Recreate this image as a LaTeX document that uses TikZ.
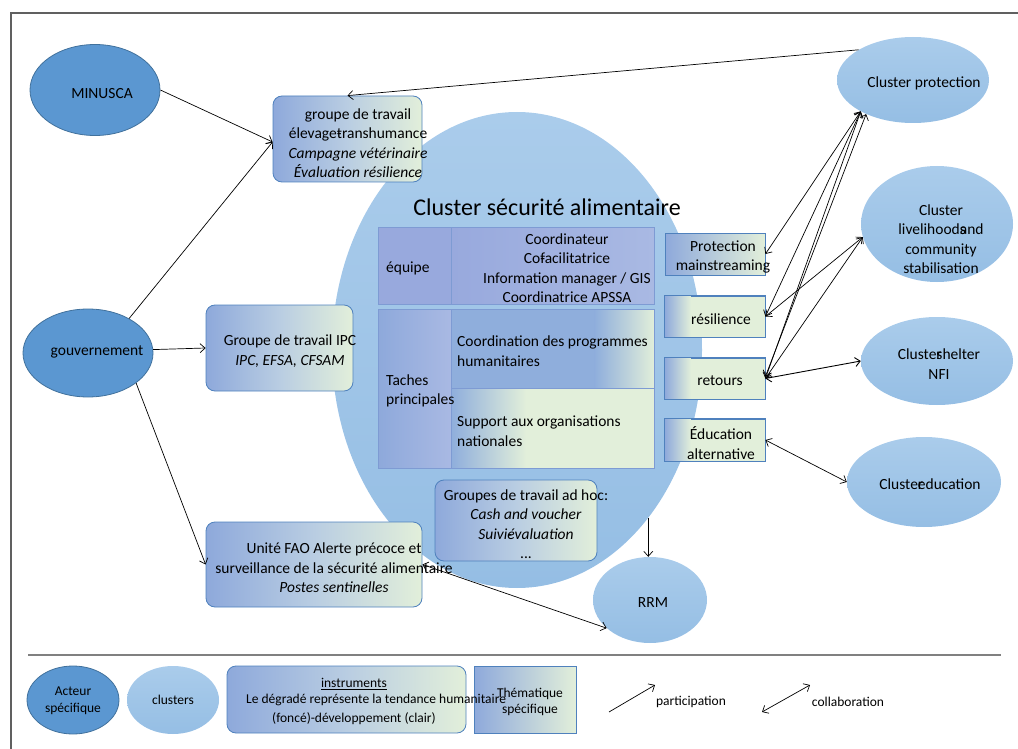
\documentclass[tikz,border=0pt]{standalone}
\usepackage{fontspec}
\setmainfont{Carlito}
\usetikzlibrary{arrows.meta,shapes.geometric,calc}
\definecolor{actor}{HTML}{5B97D1}
\definecolor{actorline}{HTML}{41719C}
\definecolor{clutop}{HTML}{AACCEB}
\definecolor{clubot}{HTML}{95BEE4}
\definecolor{blu}{HTML}{8EA9DB}
\definecolor{blu2}{HTML}{8FAEDC}
\definecolor{grn}{HTML}{E2EFDA}
\definecolor{midc}{HTML}{B9CDE2}
\definecolor{boxline}{HTML}{4F81BD}
\definecolor{cellline}{HTML}{7E9BD3}
\definecolor{eqa}{HTML}{98A9DD}
\definecolor{eqb}{HTML}{A9B9E3}
\definecolor{framec}{HTML}{606060}
\begin{document}
\begin{tikzpicture}[x=1pt,y=-1pt,font=\fontsize{15.5}{19.5}\selectfont,
  actorn/.style={ellipse,draw=actorline,line width=0.8pt,fill=actor,inner sep=0},
  clustern/.style={ellipse,top color=clutop,bottom color=clubot,draw=none,inner sep=0},
  instr/.style={rounded corners=9pt,draw=boxline,line width=0.8pt,left color=blu,right color=grn,middle color=midc,inner sep=0},
  thema/.style={draw=boxline,line width=0.8pt,fill=grn,inner sep=0,minimum width=100pt},
  strip/.style={draw=none,inner sep=0,left color=#1,right color=grn},
  cell/.style={draw=cellline,line width=0.8pt,inner sep=0,anchor=north west},
  txt/.style={inner sep=0,align=center},
  lfont/.style={font=\fontsize{13.5}{16.5}\selectfont},
  part/.style={-{Straight Barb[length=5pt,width=9pt]},line width=0.7pt},
  collab/.style={{Straight Barb[length=5pt,width=9pt]}-{Straight Barb[length=5pt,width=9pt]},line width=0.7pt}]
\useasboundingbox (0,0) rectangle (1018,749);
% frame
\draw[framec,line width=1.3pt] (11,749) -- (11,13) -- (1018,13);
\draw[gray,line width=1.2pt] (28,655) -- (1001,655);

% big cluster ellipse
\node[clustern,minimum width=370pt,minimum height=476pt] (big) at (517,350) {};
\node[txt,font=\fontsize{24}{28}\selectfont] (bigt) at (547,207) {Cluster sécurité alimentaire};

% table
\node[cell,left color=eqa,right color=eqa,minimum width=73pt,minimum height=77pt] (eqL) at (378,227) {};
\node[cell,left color=eqa,right color=eqb,minimum width=203pt,minimum height=77pt] (eqR) at (451,227) {};
\node[cell,left color=blu,right color=eqb,minimum width=73pt,minimum height=159pt] (taL) at (378,309) {};
\node[cell,fill=blu2,minimum width=203pt,minimum height=79pt] (taR1) at (451,309) {};
\node[strip=blu2,anchor=east,minimum width=60pt,minimum height=79pt] (taR1s) at (taR1.east) {};
\draw[cellline,line width=0.8pt] (taR1.north west) rectangle (taR1.south east);
\node[cell,fill=grn,minimum width=203pt,minimum height=80pt] (taR2) at (451,388) {};
\node[strip=blu2,anchor=west,minimum width=75pt,minimum height=80pt] (taR2s) at (taR2.west) {};
\draw[cellline,line width=0.8pt] (taR2.north west) rectangle (taR2.south east);
\node[txt,anchor=west] (eqLt) at (386,268) {équipe};
\node[txt] (eqRt) at (567,268) {Coordinateur\\Co\rlap{-}facilitatrice\\Information manager / GIS\\Coordinatrice APSSA};
\node[txt,anchor=west,align=left] (taLt) at (386,391) {Taches\\principales};
\node[txt,anchor=west,align=left] (taR1t) at (457,351) {Coordination des programmes\\humanitaires};
\node[txt,anchor=west,align=left] (taR2t) at (457,431) {Support aux organisations\\nationales};

% thematic boxes
\node[thema,minimum height=42pt,left color=blu,right color=grn] (pm) at (715,254) {};
\node[txt] (pmt) at (723,257) {Protection\\mainstreaming};
\node[thema,minimum height=41pt] (res) at (715,316.5) {};
\node[strip=blu,anchor=west,minimum width=26pt,minimum height=41pt] (ress) at (res.west) {};
\draw[boxline,line width=0.8pt] (res.north west) rectangle (res.south east);
\node[txt] (rest) at (721,319) {résilience};
\node[thema,minimum height=41pt] (ret) at (715,378.5) {};
\node[strip=blu,anchor=west,minimum width=26pt,minimum height=41pt] (rets) at (ret.west) {};
\draw[boxline,line width=0.8pt] (ret.north west) rectangle (ret.south east);
\node[txt] (rett) at (720,381) {retours};
\node[thema,minimum height=42pt] (edua) at (715,440) {};
\node[strip=blu,anchor=west,minimum width=26pt,minimum height=42pt] (eduas) at (edua.west) {};
\draw[boxline,line width=0.8pt] (edua.north west) rectangle (edua.south east);
\node[txt] (eduat) at (721,443) {Éducation\\alternative};

% instruments
\node[instr,minimum width=149pt,minimum height=86pt] (grp) at (347.5,139) {};
\node[txt] (grpt) at (358,143) {groupe de travail\\élevage\rlap{-}transhumance\\\textit{Campagne vétérinaire}\\\textit{Évaluation résilience}};
\node[instr,minimum width=147pt,minimum height=86pt] (ipc) at (279.5,348) {};
\node[txt] (ipct) at (290,351) {Groupe de travail IPC\\\textit{IPC, EFSA, CFSAM}};
\node[instr,minimum width=216pt,minimum height=85pt] (fao) at (314,564.5) {};
\node[txt] (faot) at (334,568) {Unité FAO Alerte précoce et\\surveillance de la sécurité alimentaire\\\textit{Postes sentinelles}};
\node[instr,minimum width=162pt,minimum height=81pt] (adhoc) at (516,520.5) {};
\node[txt] (adhoct) at (526,524) {Groupes de travail ad hoc:\\\textit{Cash and voucher}\\\textit{Suivi\rlap{-}évaluation}\\...};

% actors
\node[actorn,minimum width=130pt,minimum height=91pt] (minusca) at (95,90) {};
\node[txt] (minuscat) at (102,94) {MINUSCA};
\node[actorn,minimum width=130pt,minimum height=88pt] (gouv) at (88,353) {};
\node[txt] (gouvt) at (97,352) {gouvernement};

% clusters
\node[clustern,minimum width=152pt,minimum height=86pt] (prot) at (913,80) {};
\node[txt] (prott) at (924,83) {Cluster protection};
\node[clustern,minimum width=152pt,minimum height=116pt] (live) at (937,224) {};
\node[txt] (livet) at (941,239) {Cluster\\livelihood\rlap{s}and\\community\\stabilisation};
\node[clustern,minimum width=152pt,minimum height=88pt] (shel) at (937,361) {};
\node[txt] (shelt) at (939,364) {Cluste\rlap{r}shelter\\NFI};
\node[clustern,minimum width=154pt,minimum height=90pt] (edu) at (924,482) {};
\node[txt] (edut) at (930,484) {Cluste\rlap{r}education};
\node[clustern,minimum width=114pt,minimum height=86pt] (rrm) at (650,600) {};
\node[txt] (rrmt) at (653,603) {RRM};

% connectors
\draw[part] (minusca.east) -- ([yshift=-3pt]grp.west);
\draw[part] (gouv.40) -- ([yshift=-3pt]grp.west);
\draw[part] (prot.151) -- (grp.north);
\draw[part] (gouv.3) -- (ipc.west);
\draw[part] (gouv.-32) -- (fao.west);
\draw[collab] (fao.east) -- (rrm.213);
\draw[part] (big.-52) -- (big.-52 |- rrm.north);
\draw[collab] (prot.211) -- (pm.east);
\draw[collab] (prot.211) -- (res.east);
\draw[collab] (prot.211) -- (ret.east);
\draw[collab] (prot.216) -- ([yshift=2pt]ret.east);
\draw[collab] (live.190) -- (res.east);
\draw[collab] (live.190) -- (ret.east);
\draw[collab,line width=0.9pt] (shel.west) -- (ret.east);
\draw[collab] (edua.east) -- (edu.west);

% legend
\node[actorn,minimum width=92pt,minimum height=68pt] (lact) at (73,700) {};
\node[txt,lfont] (lactt) at (73,701) {Acteur\\spécifique};
\node[clustern,minimum width=92pt,minimum height=68pt] (lclu) at (173,700) {};
\node[txt,lfont] (lclut) at (173,700) {clusters};
\node[instr,minimum width=239pt,minimum height=67pt] (lins) at (346.5,699.5) {};
\node[thema,minimum width=102pt,minimum height=67pt,left color=blu,right color=grn] (lthe) at (525,699.5) {};
\node[txt,lfont] (linst1) at (354,684) {\underline{instruments}};
\node[txt,lfont,anchor=west] (linst2) at (246,700) {Le dégradé représente la tendance humanitaire};
\node[txt,lfont] (linst3) at (354,719) {(foncé)-développement (clair)};
\node[txt,lfont] (ltht) at (530,702) {Thématique\\spécifique};
\coordinate (pa) at (609,712);
\coordinate (pb) at (655,685);
\draw[part] (pa) -- (pb);
\node[txt,lfont] (ptxt) at (691,702) {participation};
\coordinate (ca) at (762,712);
\coordinate (cb) at (810,685);
\draw[collab] (ca) -- (cb);
\node[txt,lfont] (ctxt) at (848,702) {collaboration};
\end{tikzpicture}
\end{document}
